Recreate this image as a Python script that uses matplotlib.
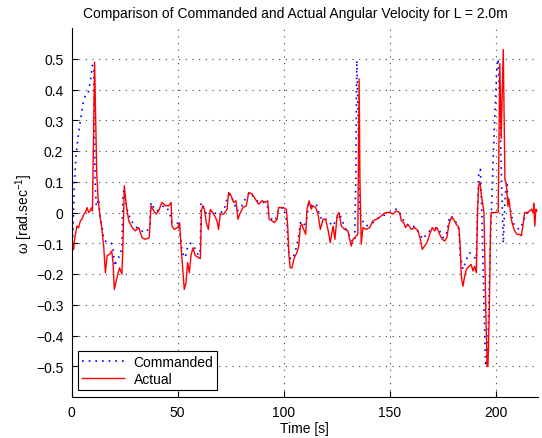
import matplotlib
matplotlib.use("Agg")
import matplotlib.pyplot as plt
from matplotlib.ticker import FuncFormatter, MultipleLocator, FixedLocator

plt.rcParams["font.family"] = ["Liberation Sans", "DejaVu Sans"]
plt.rcParams["mathtext.default"] = "regular"

# values (time [s], omega [rad/s])
actual_t = [0.0, 0.5, 0.9, 1.5, 2.5, 3.2, 4.1, 5.0, 5.7, 6.5, 7.2, 8.0, 8.6, 9.3, 9.8,
            10.8, 11.3, 11.8, 12.5, 13.5, 14.1, 14.6, 15.1, 15.9, 16.7, 17.9, 18.9, 19.5,
            20.1, 21.4, 22.6, 23.7, 24.2, 24.8, 25.8, 26.9, 28.5, 30.0, 31.6, 33.2, 34.7,
            36.6, 37.4, 38.7, 39.9, 41.0, 42.6, 44.2, 45.8, 46.9, 47.3, 48.4, 50.0, 50.9,
            51.6, 52.4, 53.1, 53.9, 54.7, 55.5, 56.3, 57.2, 58.3, 59.9, 60.7, 61.2, 61.8,
            62.6, 63.5, 64.5, 65.4, 67.0, 68.6, 69.3, 70.1, 71.7, 73.3, 74.0, 75.2, 76.4,
            77.5, 78.4, 79.6, 80.8, 82.4, 83.5, 85.1, 86.6, 88.2, 89.8, 91.4, 92.5, 93.1,
            94.5, 95.6, 96.9, 97.6, 100.0, 101.3, 101.9, 102.5, 103.1, 103.9, 105.0, 106.3,
            107.1, 107.9, 108.6, 109.1, 110.4, 111.0, 112.0, 113.0, 113.8, 115.1, 116.2,
            117.3, 118.6, 119.8, 120.9, 122.0, 123.3, 124.2, 125.2, 126.1, 127.2, 128.8,
            130.3, 131.1, 131.9, 132.7, 133.5, 134.3, 135.0, 135.6, 136.0, 136.6, 137.4,
            139.0, 140.6, 142.1, 143.7, 145.3, 146.9, 148.4, 150.0, 151.6, 153.1, 154.7,
            155.5, 156.6, 157.5, 158.6, 160.2, 161.8, 163.4, 164.5, 165.4, 166.5, 167.6,
            168.9, 170.1, 171.2, 172.3, 173.6, 174.8, 175.9, 177.0, 178.0, 179.1, 180.2,
            181.4, 182.7, 183.3, 183.8, 184.6, 185.4, 186.2, 187.4, 188.5, 189.3, 190.1,
            190.9, 191.5, 192.0, 192.6, 193.2, 194.5, 195.4, 196.0, 196.4, 197.0, 197.6,
            197.9, 200.5, 201.2, 202.0, 202.6, 203.6, 204.4, 205.1, 205.8, 206.3, 207.4,
            208.2, 209.0, 210.1, 211.3, 212.1, 212.9, 213.7, 215.3, 216.9, 217.7, 218.0,
            218.5, 219.0, 219.5]
actual_w = [-0.06, -0.11, -0.12, -0.08, -0.044, -0.05, -0.027, -0.02, -0.005, 0.0, 0.016,
            0.0, 0.005, 0.015, 0.005, 0.489, 0.3, 0.13, 0.04, -0.02, -0.045, -0.076, -0.11,
            -0.196, -0.14, -0.136, -0.125, -0.163, -0.25, -0.21, -0.18, -0.2, -0.1, 0.087,
            0.022, -0.027, -0.049, -0.06, -0.049, -0.082, -0.087, -0.082, 0.022, 0.005,
            -0.005, 0.005, 0.033, 0.022, 0.022, 0.033, -0.044, -0.055, -0.049, -0.033,
            -0.11, -0.185, -0.25, -0.23, -0.163, -0.196, -0.14, -0.115, -0.14, -0.147,
            -0.15, 0.005, 0.022, 0.01, -0.033, -0.055, 0.01, -0.005, -0.027, -0.055, -0.005,
            -0.005, 0.01, 0.065, 0.055, 0.033, 0.038, -0.022, 0.0, 0.016, 0.022, 0.065,
            0.06, 0.044, 0.027, 0.038, 0.033, 0.038, -0.022, -0.027, -0.033, -0.022, 0.016,
            0.016, 0.01, -0.044, -0.14, -0.18, -0.18, -0.147, -0.13, -0.109, -0.044, -0.038,
            -0.049, -0.071, 0.011, 0.038, 0.011, 0.022, 0.016, -0.005, -0.055, -0.022,
            -0.022, -0.055, -0.098, -0.044, -0.087, -0.011, 0.0, -0.044, -0.055, -0.06,
            -0.087, -0.109, -0.087, -0.082, -0.076, -0.07, 0.435, 0.1, -0.103, -0.049,
            -0.055, -0.049, -0.027, -0.022, -0.016, -0.005, 0.0, 0.0, -0.005, 0.005, 0.0,
            -0.027, -0.033, -0.049, -0.038, -0.055, -0.049, -0.06, -0.087, -0.12, -0.109,
            -0.098, -0.071, -0.049, -0.06, -0.049, -0.071, -0.087, -0.093, -0.082, -0.038,
            -0.016, -0.022, -0.038, -0.049, -0.109, -0.207, -0.24, -0.207, -0.185, -0.175,
            -0.169, -0.19, -0.175, -0.196, 0.011, 0.087, 0.1, 0.06, 0.0, -0.33, -0.5, -0.5,
            -0.33, -0.05, 0.0, 0.0, 0.0, 0.484, 0.24, 0.53, 0.108, 0.09, 0.02, 0.044,
            -0.022, -0.044, -0.06, -0.071, -0.071, -0.076, -0.044, 0.0, 0.0, 0.011, 0.0,
            0.03, -0.044, 0.011, 0.005]

commanded_t = [0.0, 0.5, 1.1, 2.0, 3.1, 4.2, 5.5, 6.7, 7.8, 9.0, 9.7, 10.4, 11.0, 11.6,
               12.7, 13.5, 14.3, 15.1, 16.7, 17.9, 18.7, 19.5, 20.3, 21.4, 23.0, 23.7, 24.2,
               24.6, 26.1, 27.7, 29.2, 30.8, 32.4, 33.9, 35.5, 36.8, 37.4, 38.7, 40.2, 41.8,
               43.4, 45.0, 46.5, 47.3, 48.9, 50.5, 51.3, 52.0, 52.8, 53.6, 54.7, 56.0, 57.2,
               58.3, 59.9, 60.7, 61.0, 62.3, 63.8, 65.4, 67.0, 68.6, 70.1, 71.7, 73.3, 74.8,
               76.4, 78.0, 79.6, 81.1, 82.7, 84.3, 85.9, 87.4, 89.0, 90.6, 92.2, 93.0, 94.5,
               96.1, 97.6, 100.0, 101.6, 102.0, 102.8, 103.9, 105.4, 107.1, 107.9, 109.5,
               111.0, 111.8, 113.0, 115.4, 117.0, 118.6, 120.2, 121.7, 123.3, 124.9, 126.4,
               128.0, 129.5, 131.1, 132.7, 133.5, 134.0, 134.5, 135.2, 135.7, 136.6, 139.0,
               140.6, 142.1, 143.7, 146.9, 150.0, 153.1, 154.7, 156.2, 157.8, 159.4, 161.0,
               162.6, 164.2, 165.7, 167.3, 168.9, 170.4, 172.0, 173.6, 175.2, 176.7, 178.3,
               179.9, 181.4, 182.7, 183.3, 184.6, 186.2, 187.7, 189.3, 190.9, 191.5, 192.0,
               192.8, 193.5, 194.5, 195.3, 196.3, 197.3, 198.1, 199.2, 200.5, 201.2, 202.0,
               202.8, 203.6, 204.5, 205.3, 205.8, 206.6, 208.2, 209.7, 211.3, 212.9, 214.4,
               216.0, 217.6, 219.5]
commanded_w = [-0.1, -0.088, 0.065, 0.184, 0.25, 0.304, 0.36, 0.386, 0.39, 0.435, 0.478,
               0.478, 0.108, 0.02, 0.044, -0.02, -0.044, -0.087, -0.098, -0.1, -0.1, -0.12,
               -0.175, -0.15, -0.14, -0.11, 0.065, 0.07, 0.011, -0.022, -0.038, -0.049,
               -0.055, -0.065, -0.06, -0.044, 0.033, 0.016, 0.005, 0.011, 0.022, 0.016,
               -0.011, -0.033, -0.038, -0.033, -0.082, -0.12, -0.14, -0.147, -0.11, -0.1,
               -0.104, -0.12, -0.14, -0.12, 0.033, 0.016, -0.011, 0.0, 0.0, -0.005, 0.0,
               0.005, 0.044, 0.06, 0.033, 0.005, 0.011, 0.033, 0.055, 0.065, 0.049, 0.038,
               0.033, 0.033, 0.027, -0.011, -0.022, -0.027, 0.011, 0.016, -0.033, -0.11,
               -0.147, -0.153, -0.131, -0.076, -0.033, -0.044, -0.016, 0.033, 0.022, 0.027,
               -0.011, -0.027, -0.022, -0.033, -0.044, -0.022, -0.005, -0.033, -0.055,
               -0.076, -0.098, -0.087, 0.1, 0.495, 0.3, 0.02, -0.022, -0.044, -0.038,
               -0.033, -0.022, -0.011, 0.0, 0.011, 0.0, -0.022, -0.038, -0.044, -0.044,
               -0.049, -0.071, -0.087, -0.071, -0.06, -0.055, -0.049, -0.06, -0.082, -0.076,
               -0.011, -0.016, -0.033, -0.055, -0.14, -0.185, -0.153, -0.131, -0.14, -0.153,
               0.02, 0.12, 0.14, 0.0, -0.3, -0.5, -0.45, -0.15, 0.02, 0.24, 0.457, 0.5,
               0.35, 0.1, -0.1, 0.05, 0.1, 0.044, 0.022, -0.033, -0.049, -0.055, -0.033,
               -0.005, 0.005, 0.005, 0.0]

y_ticks = [-0.5, -0.4, -0.3, -0.2, -0.1, 0.0, 0.1, 0.2, 0.3, 0.4, 0.5]

fig = plt.figure(figsize=(5.42, 4.39), dpi=100)
ax = fig.add_axes([71.7 / 542, 41 / 439, 466.3 / 542, 369 / 439])

ax.plot(commanded_t, commanded_w, color="blue", linestyle=(0, (1, 3)), linewidth=1.2,
        label="Commanded")
ax.plot(actual_t, actual_w, color="red", linewidth=1.0, label="Actual")

ax.set_xlim(0, 220)
ax.set_ylim(-0.6, 0.6)
ax.xaxis.set_major_locator(MultipleLocator(50))
ax.yaxis.set_major_locator(FixedLocator(y_ticks))
ax.yaxis.set_major_formatter(FuncFormatter(lambda v, p: ("%g" % round(v, 2)).replace("-", "\u2212")))
ax.tick_params(direction="in", length=4, width=0.8, labelsize=10, pad=6)

ax.spines["top"].set_visible(False)
ax.spines["right"].set_visible(False)
ax.grid(True, color="0.25", linestyle=(0, (1, 5)), linewidth=0.8)

ax.set_title("Comparison of Commanded and Actual Angular Velocity for L = 2.0m", fontsize=10,
             pad=8, x=(295 - 71.7) / 466.3)
ax.set_xlabel("Time [s]", fontsize=10, labelpad=1)
ax.set_ylabel("ω [rad.sec$^{-1}$]", fontsize=10)
ax.yaxis.set_label_coords((35 - 71.7) / 466.3, 0.5)

leg = ax.legend(loc="lower left", bbox_to_anchor=(6.3 / 466.3, 7 / 369), borderaxespad=0,
                fancybox=False, edgecolor="black", framealpha=1, fontsize=10,
                handlelength=3.0, handletextpad=0.7, borderpad=0.3, labelspacing=0.2)
leg.get_frame().set_linewidth(0.8)

fig.savefig("out.png", dpi=100)
